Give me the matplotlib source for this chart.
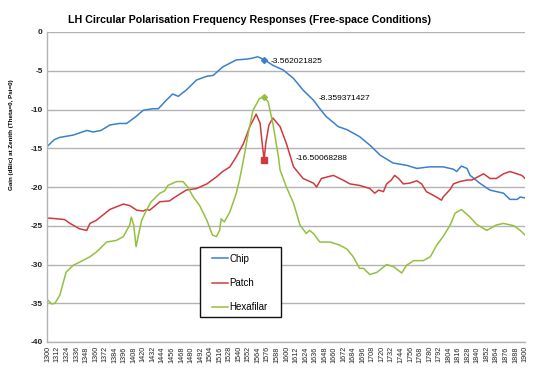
import matplotlib
matplotlib.use("Agg")
import matplotlib.pyplot as plt
from matplotlib.patches import Rectangle

plt.rcParams['font.family'] = ['Liberation Sans', 'DejaVu Sans']

chip_x = [1300, 1308, 1315, 1332, 1349, 1357, 1367, 1378, 1390, 1399, 1411, 1420, 1432, 1439,
          1449, 1457, 1464, 1474, 1487, 1500, 1508, 1520, 1537, 1550, 1556, 1564, 1572, 1583,
          1596, 1609, 1621, 1634, 1642, 1650, 1665, 1676, 1692, 1705, 1718, 1734, 1751, 1764,
          1780, 1797, 1810, 1814, 1820, 1827, 1831, 1843, 1856, 1873, 1881, 1890, 1894, 1900]
chip_y = [-14.7, -13.9, -13.6, -13.3, -12.7, -12.9, -12.7, -12.0, -11.8, -11.8, -10.9, -10.1, -9.9, -9.9,
          -8.8, -8.0, -8.3, -7.5, -6.2, -5.7, -5.6, -4.5, -3.6, -3.5, -3.4, -3.2, -3.56, -4.3,
          -4.9, -6.0, -7.5, -8.8, -9.9, -10.9, -12.2, -12.6, -13.5, -14.6, -15.9, -16.9, -17.2, -17.6,
          -17.4, -17.4, -17.7, -18.0, -17.3, -17.6, -18.5, -19.5, -20.4, -20.8, -21.6, -21.6, -21.3, -21.4]

patch_x = [1300, 1311, 1321, 1328, 1340, 1349, 1353, 1361, 1378, 1395, 1403, 1412, 1420, 1424, 1428,
           1441, 1453, 1460, 1474, 1487, 1500, 1512, 1520, 1529, 1537, 1546, 1554, 1562, 1567, 1570,
           1572, 1574, 1578, 1583, 1592, 1600, 1609, 1621, 1634, 1638, 1644, 1659, 1671, 1680, 1692,
           1705, 1711, 1716, 1722, 1726, 1732, 1736, 1741, 1747, 1755, 1764, 1770, 1776, 1787, 1795,
           1797, 1806, 1810, 1818, 1827, 1833, 1848, 1856, 1864, 1873, 1881, 1890, 1896, 1900]
patch_y = [-24.0, -24.1, -24.2, -24.7, -25.4, -25.6, -24.7, -24.3, -22.9, -22.2, -22.4, -23.0, -23.1, -22.9, -23.0,
           -21.9, -21.8, -21.3, -20.4, -20.2, -19.6, -18.7, -18.0, -17.4, -16.1, -14.4, -12.2, -10.6, -11.8, -14.8,
           -16.5, -14.4, -12.0, -11.1, -12.2, -14.4, -17.4, -18.9, -19.5, -20.0, -18.9, -18.5, -19.1, -19.6, -19.8,
           -20.2, -20.8, -20.4, -20.6, -19.6, -19.1, -18.5, -18.9, -19.6, -19.5, -19.2, -19.6, -20.6, -21.2, -21.7,
           -21.3, -20.3, -19.6, -19.3, -19.1, -19.1, -18.3, -18.9, -18.9, -18.3, -18.0, -18.3, -18.5, -18.9]

hexa_x = [1300, 1305, 1309, 1315, 1323, 1332, 1340, 1353, 1361, 1374, 1386, 1395, 1403, 1405, 1408,
          1411, 1414, 1418, 1424, 1430, 1441, 1447, 1451, 1462, 1470, 1476, 1483, 1491, 1500, 1507,
          1512, 1516, 1518, 1522, 1529, 1537, 1541, 1546, 1552, 1558, 1566, 1572, 1577, 1583, 1590,
          1592, 1600, 1609, 1617, 1625, 1629, 1634, 1642, 1655, 1667, 1676, 1684, 1692, 1697, 1705,
          1714, 1726, 1735, 1745, 1751, 1760, 1772, 1781, 1789, 1797, 1806, 1812, 1820, 1831, 1839,
          1852, 1864, 1873, 1886, 1894, 1900]
hexa_y = [-34.6, -35.1, -35.0, -34.0, -31.0, -30.1, -29.7, -29.0, -28.4, -27.1, -26.9, -26.4, -24.9, -23.9, -24.9,
          -27.7, -26.2, -24.3, -23.0, -21.9, -20.8, -20.5, -19.8, -19.3, -19.3, -20.0, -21.3, -22.4, -24.3, -26.2,
          -26.4, -25.6, -24.1, -24.5, -23.2, -20.8, -19.1, -16.5, -13.1, -10.1, -8.6, -8.36, -9.0, -11.8, -16.1,
          -17.8, -20.0, -22.1, -24.9, -26.0, -25.6, -26.0, -27.1, -27.1, -27.5, -28.0, -29.0, -30.5, -30.5, -31.3,
          -31.0, -30.0, -30.3, -31.1, -30.1, -29.5, -29.5, -29.0, -27.5, -26.4, -24.9, -23.4, -22.9, -23.9, -24.8,
          -25.6, -24.9, -24.7, -25.0, -25.6, -26.2]

marker_x = 1572
labels = ["-3.562021825", "-8.359371427", "-16.50068288"]
x_ticks = list(range(1300, 1901, 12))
y_ticks = list(range(-40, 1, 5))

c_chip = '#3b80cc'
c_patch = '#d03a3e'
c_hexa = '#95c03f'

fig = plt.figure(figsize=(5.4, 3.68), dpi=100)
ax = fig.add_axes([47/540, 1-342/368, (525-47)/540, (342-32)/368])

ax.plot(chip_x, chip_y, color=c_chip, lw=1.1, label='Chip')
ax.plot(patch_x, patch_y, color=c_patch, lw=1.1, label='Patch')
ax.plot(hexa_x, hexa_y, color=c_hexa, lw=1.1, label='Hexafilar')

ax.plot([marker_x], [chip_y[chip_x.index(marker_x)]], marker='D', ms=3, color=c_chip, ls='none')
ax.plot([marker_x], [patch_y[patch_x.index(marker_x)]], marker='s', ms=4.2, color=c_patch, ls='none')
ax.plot([marker_x], [hexa_y[hexa_x.index(marker_x)]], marker='D', ms=3, color=c_hexa, ls='none')

ax.text(1580, -3.8, labels[0], fontsize=6, va='center', ha='left')
ax.text(1640, -8.6, labels[1], fontsize=6, va='center', ha='left')
ax.text(1612, -16.3, labels[2], fontsize=6, va='center', ha='left')

ax.set_xlim(1299, 1900)
ax.set_ylim(-40, 0)
ax.set_xticks(x_ticks)
ax.set_xticklabels([str(v) for v in x_ticks], rotation=90, fontsize=5.2)
ax.set_yticks(y_ticks)
ax.set_yticklabels([str(v) for v in y_ticks], fontsize=6, fontweight='bold')
ax.tick_params(axis='both', length=0, pad=3, colors='#222222')
ax.grid(axis='y', color='#b3b3b3', lw=1.0)
ax.set_axisbelow(True)
for s in ['top', 'right']:
    ax.spines[s].set_visible(False)
for s in ['left', 'bottom']:
    ax.spines[s].set_color('#b3b3b3')
    ax.spines[s].set_linewidth(1.0)

fig.text(250/540, 1-20/368, 'LH Circular Polarisation Frequency Responses (Free-space Conditions)',
         fontsize=7.7, fontweight='bold', ha='center', va='center')
fig.text(12/540, 1-135/368, 'Gain (dBic) at Zenith (Theta=0, Psi=0)', fontsize=4.5, fontweight='bold',
         rotation=90, ha='center', va='center')

# legend box
fig.patches.append(Rectangle((200/540, 1-317/368), 81/540, 70/368, transform=fig.transFigure,
                             facecolor='white', edgecolor='#111111', lw=1.0, zorder=5))
leg = fig.legend(loc='upper left', bbox_to_anchor=(206/540, 1-248/368), fontsize=7,
                 frameon=False, handlelength=1.7, handletextpad=0.1, labelspacing=1.45,
                 borderpad=0.6, borderaxespad=0)
leg.set_zorder(6)

fig.savefig('out.png', dpi=100)
